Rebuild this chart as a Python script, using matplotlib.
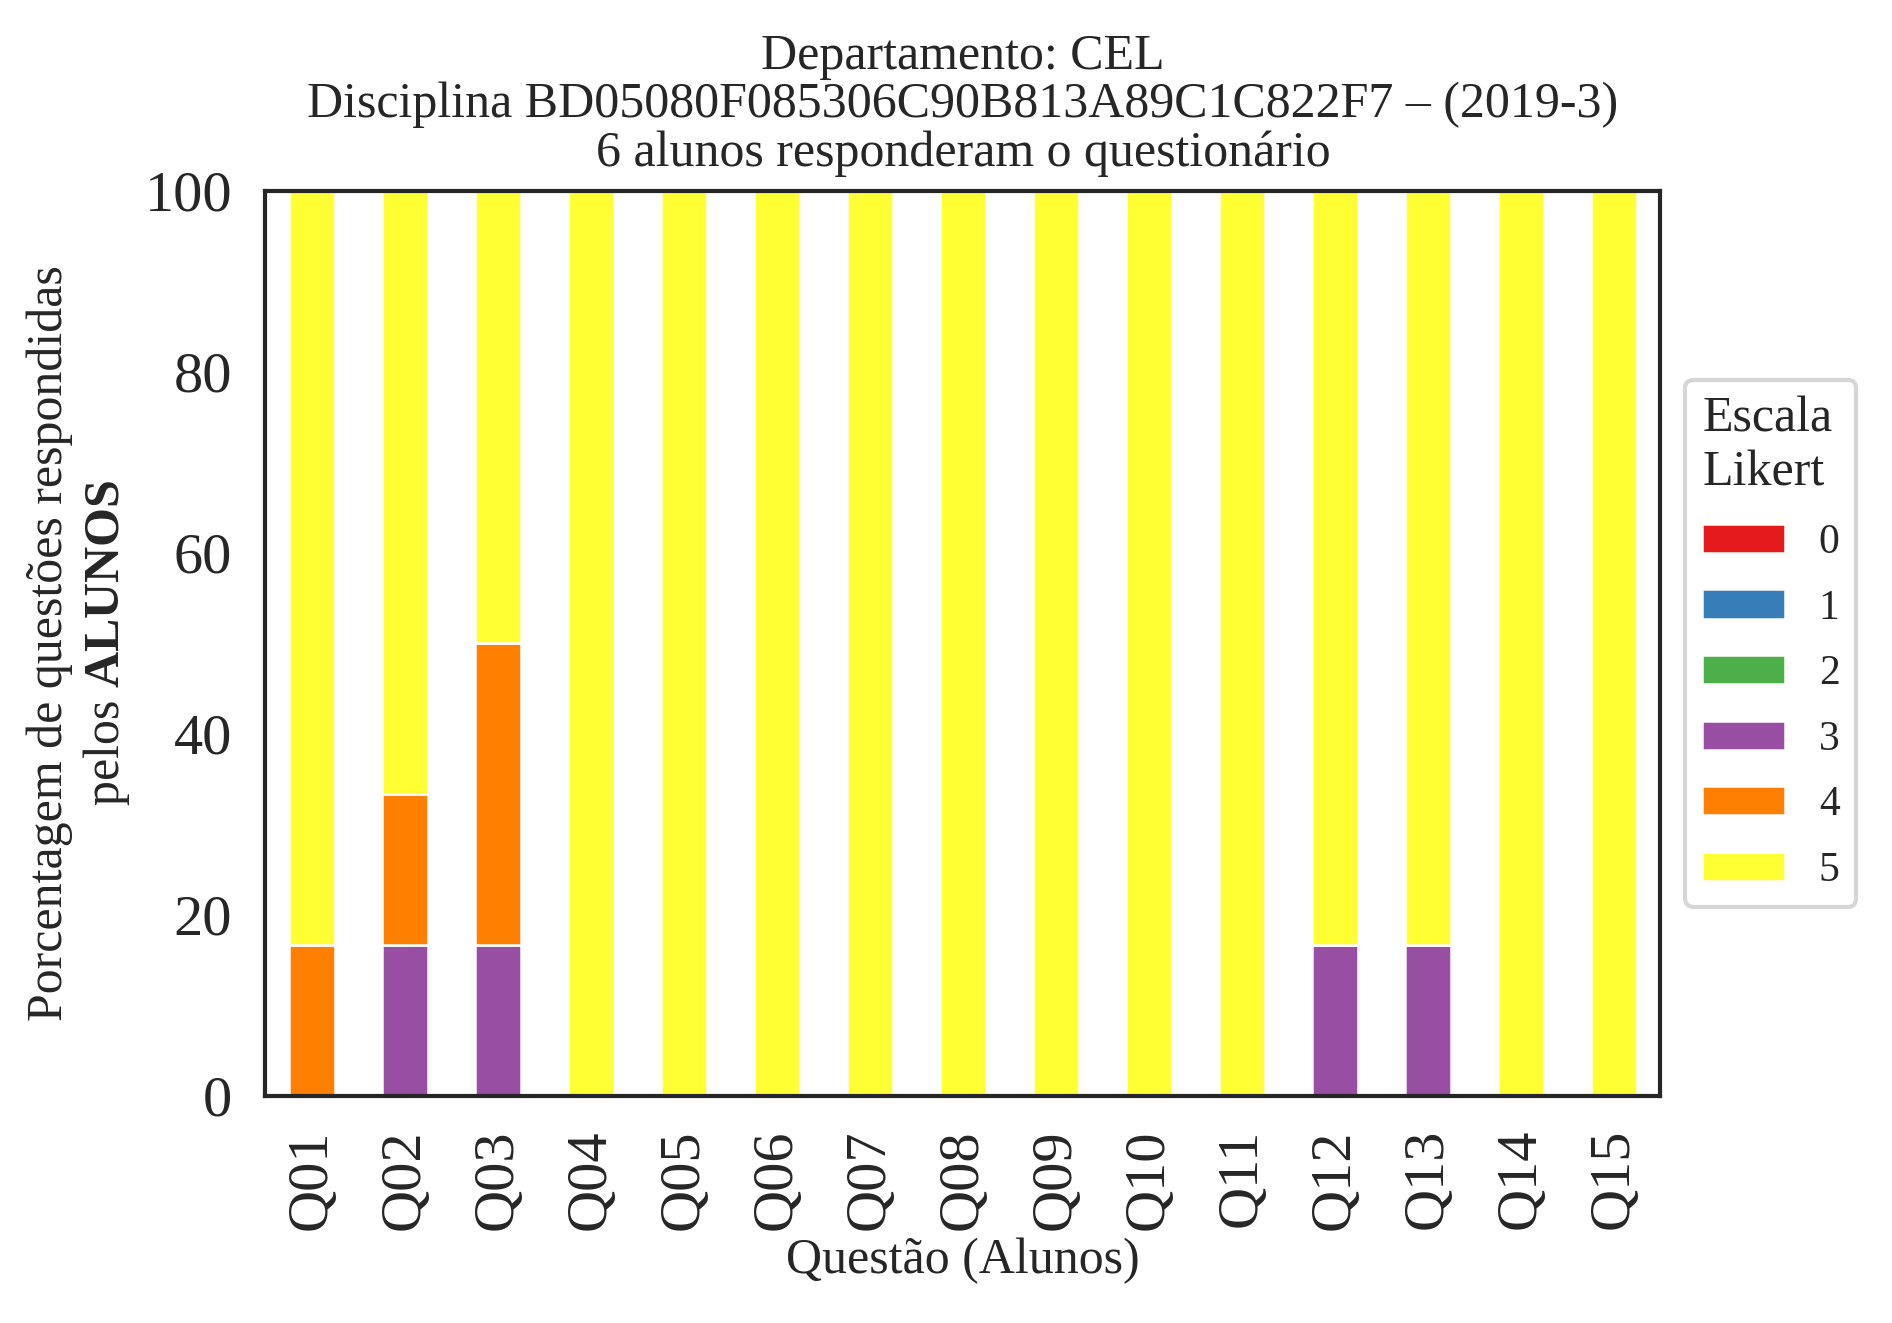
import matplotlib
matplotlib.use("Agg")
import matplotlib.pyplot as plt
import numpy as np

questions = ["Q01", "Q02", "Q03", "Q04", "Q05", "Q06", "Q07", "Q08", "Q09", "Q10",
             "Q11", "Q12", "Q13", "Q14", "Q15"]
likert_levels = ["0", "1", "2", "3", "4", "5"]
colors = ["#e41a1c", "#377eb8", "#4daf4a", "#984ea3", "#ff7f00", "#ffff33"]

# percentages per level (6 students)
p0 = [0] * 15
p1 = [0] * 15
p2 = [0] * 15
p3 = [0, 16.67, 16.67, 0, 0, 0, 0, 0, 0, 0, 0, 16.67, 16.67, 0, 0]
p4 = [16.67, 16.67, 33.33, 0, 0, 0, 0, 0, 0, 0, 0, 0, 0, 0, 0]
p5 = [83.33, 66.67, 50.0, 100, 100, 100, 100, 100, 100, 100, 100, 83.33, 83.33, 100, 100]
series = [p0, p1, p2, p3, p4, p5]

plt.rcParams['font.family'] = ['Liberation Serif', 'DejaVu Serif']
plt.rcParams['mathtext.fontset'] = 'custom'
plt.rcParams['mathtext.rm'] = 'Liberation Serif'
plt.rcParams['mathtext.bf'] = 'Liberation Serif:bold'
plt.rcParams['text.color'] = '#262626'
plt.rcParams['axes.labelcolor'] = '#262626'
plt.rcParams['xtick.color'] = '#262626'
plt.rcParams['ytick.color'] = '#262626'

fig = plt.figure(figsize=(1892 / 300, 1323 / 300), dpi=300)
ax = fig.add_axes([0.1403, 0.1718, 0.7373, 0.6842])

x = np.arange(len(questions))
bottom = np.zeros(len(questions))
for lvl, vals, c in zip(likert_levels, series, colors):
    vals = np.array(vals, dtype=float)
    ax.bar(x, vals, width=0.5, bottom=bottom, color=c, edgecolor='white',
           linewidth=0.6, label=lvl)
    bottom += vals

ax.set_xlim(-0.5, len(questions) - 0.5)
ax.set_ylim(0, 100)
ax.set_xticks(x)
ax.set_xticklabels(questions, rotation=90, fontsize=14)
ax.set_yticks([0, 20, 40, 60, 80, 100])
ax.tick_params(axis='y', labelsize=14, length=0, pad=8)
ax.tick_params(axis='x', length=0, pad=8)
for s in ax.spines.values():
    s.set_color('#262626')
    s.set_linewidth(1.0)

ax.set_xlabel("Questão (Alunos)", fontsize=12, labelpad=2)
ax.set_ylabel("Porcentagem de questões respondidas\npelos $\\mathbf{ALUNOS}$", fontsize=12, labelpad=3)
ax.set_title("Departamento: CEL\nDisciplina BD05080F085306C90B813A89C1C822F7 – (2019-3)\n6 alunos responderam o questionário",
             fontsize=12, linespacing=1.05, pad=6)

leg = ax.legend(title="Escala\nLikert", loc='center left', bbox_to_anchor=(1.003, 0.5),
                fontsize=10, title_fontsize=12, handlelength=2.0, handleheight=0.7,
                labelspacing=0.65, frameon=True, fancybox=True, borderpad=0.4)
leg.get_frame().set_edgecolor('#cccccc')
leg._legend_box.align = "left"

fig.savefig("out.png", dpi=300)
